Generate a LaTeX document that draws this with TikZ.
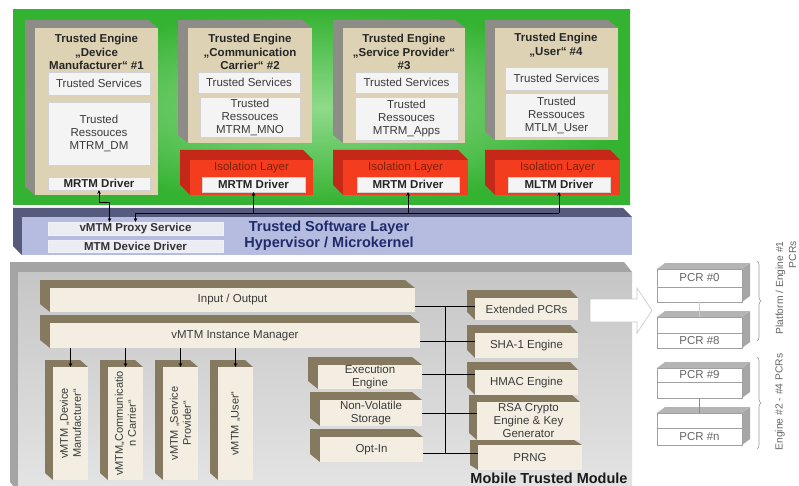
\documentclass[tikz,border=0pt]{standalone}
\usepackage{fontspec}
\setmainfont{Liberation Sans}
\usetikzlibrary{arrows.meta,decorations.pathreplacing}

\definecolor{grOut}{HTML}{34B231}
\definecolor{grIn}{HTML}{8FDA8B}
\definecolor{engBack}{HTML}{8E8C87}
\definecolor{engFront}{HTML}{DED2B4}
\definecolor{cellFill}{HTML}{F4F4F4}
\definecolor{cellLine}{HTML}{D2D2D2}
\definecolor{isoFront}{HTML}{F43C1E}
\definecolor{isoBack}{HTML}{C52819}
\definecolor{isoText}{HTML}{7A2410}
\definecolor{swFill}{HTML}{B6BBE0}
\definecolor{swBand}{HTML}{565A7C}
\definecolor{swCell}{HTML}{ECECF4}
\definecolor{swText}{HTML}{1E2C6A}
\definecolor{mtmBack}{HTML}{A4A4A4}
\definecolor{mtmTop}{HTML}{C6C6C6}
\definecolor{mtmBot}{HTML}{E4E4E4}
\definecolor{barBack}{HTML}{857A60}
\definecolor{barFront}{HTML}{F3EEE1}
\definecolor{pcrTop}{HTML}{B4B4B4}
\definecolor{pcrSide}{HTML}{A6A6A6}
\definecolor{pcrLine}{HTML}{A0A0A0}
\definecolor{txt}{HTML}{3A3A3A}

% extruded back part of a slab: front face x1,y1,x2,y2, depth dx,dy towards upper left
\newcommand\backface[7]{\fill[#1] (#2,#5) -- ({#2-#6},{#5-#7}) -- ({#2-#6},{#3-#7}) -- ({#4-#6},{#3-#7}) -- (#4,#3) -- (#2,#3) -- cycle;}
% front face as a named node spanning x1,y1,x2,y2
\newcommand\face[7]{\node[#1,anchor=north west,minimum width={#5pt-#3pt},minimum height={#6pt-#4pt}] (#2) at (#3,#4) {#7};}
% register box with top and right faces, split in two rows
\newcommand\pcrbox[6]{%
  \fill[pcrSide] (742,#2) -- (750,{#2-6}) -- (750,{#4-6}) -- (742,#4) -- cycle;
  \fill[pcrTop] (657,#2) -- (665,{#2-6}) -- (750,{#2-6}) -- (742,#2) -- cycle;
  \node[pcrface,anchor=north west,minimum width=85pt,minimum height={#3pt-#2pt}] (#1a) at (657,#2) {#5};
  \node[pcrface,anchor=north west,minimum width=85pt,minimum height={#4pt-#3pt}] (#1b) at (657,#3) {#6};}

\tikzset{
  base/.style={inner sep=0pt,outer sep=0pt,font=\fontsize{11.5}{13}\selectfont,text=txt,align=center},
  cell/.style={base,fill=cellFill,draw=cellLine,line width=0.6pt},
  enginefront/.style={base,fill=engFront},
  title/.style={base,font=\bfseries\fontsize{11.5}{13.5}\selectfont,text=black!85},
  drv/.style={cell,font=\bfseries\fontsize{11.5}{13}\selectfont,text=black!85},
  isofront/.style={base,fill=isoFront},
  isolabel/.style={base,text=isoText},
  swfront/.style={base,fill=swFill},
  swcell/.style={base,fill=swCell,draw=white!80!swFill,line width=0.6pt,font=\bfseries\fontsize{11.5}{13}\selectfont,text=black!80},
  swlabel/.style={base,font=\bfseries\fontsize{14.5}{15.5}\selectfont,text=swText},
  mtmfront/.style={base,top color=mtmTop,bottom color=mtmBot},
  mtmlabel/.style={base,font=\bfseries\fontsize{14.5}{15.5}\selectfont,text=black!90},
  bar/.style={base,fill=barFront},
  vlabel/.style={base,font=\fontsize{11}{13}\selectfont},
  pcrface/.style={base,fill=white,draw=pcrLine,line width=0.5pt,text=black!60},
  pcrlabel/.style={base,font=\fontsize{10.3}{13}\selectfont,text=black!60},
  conn/.style={draw=black,line width=0.8pt},
  bus/.style={draw=black,line width=1pt},
  tip/.tip={Stealth[length=4pt,width=3.6pt]},
  bigarrow/.style={fill=white,draw=black!22,line width=0.6pt},
  brace/.style={draw=black!40,line width=0.6pt,decorate,decoration={brace,amplitude=4pt}},
  regline/.style={draw=black!30,line width=0.6pt}
}

\begin{document}
\begin{tikzpicture}[x=1pt,y=-1pt]
\useasboundingbox (0,0) rectangle (799,486);
\fill[white] (0,0) rectangle (799,486);

% ---------- trusted engines ----------
\shade[inner color=grIn,outer color=grOut] (13,10) rectangle (630,205);

% engine 1
\backface{engBack}{35}{28}{158}{195}{10}{8}
\face{enginefront}{eng1}{35}{28}{158}{195}{}
\node[title] (t1) at (96.5,52) {Trusted Engine\\„Device\\Manufacturer“ \#1};
\face{cell}{ts1}{48}{72}{150}{95}{Trusted Services}
\face{cell}{tr1}{48}{102}{150}{165}{Trusted\\Ressouces\\MTRM\_DM}
\face{drv}{d1}{48}{177}{150}{190}{MRTM Driver}

% engine 2
\backface{engBack}{188}{28}{312}{143}{10}{8}
\face{enginefront}{eng2}{188}{28}{312}{143}{}
\node[title] (t2) at (250,52) {Trusted Engine\\„Communication\\Carrier“ \#2};
\face{cell}{ts2}{198}{72}{300}{93}{Trusted Services}
\face{cell}{tr2}{200}{97}{300}{137}{Trusted\\Ressouces\\MTRM\_MNO}
\backface{isoBack}{190}{160}{313}{195}{10}{10}
\face{isofront}{iso2}{190}{160}{313}{195}{}
\node[isolabel] (il2) at (251.5,168) {Isolation Layer};
\face{drv}{d2}{202}{177}{305}{192}{MRTM Driver}

% engine 3
\backface{engBack}{343}{28}{465}{143}{10}{8}
\face{enginefront}{eng3}{343}{28}{465}{143}{}
\node[title] (t3) at (404,52) {Trusted Engine\\„Service Provider“\\\#3};
\face{cell}{ts3}{355}{72}{458}{93}{Trusted Services}
\face{cell}{tr3}{355}{97}{458}{140}{Trusted\\Ressouces\\MTRM\_Apps}
\backface{isoBack}{343}{160}{468}{195}{10}{10}
\face{isofront}{iso3}{343}{160}{468}{195}{}
\node[isolabel] (il3) at (405.5,168) {Isolation Layer};
\face{drv}{d3}{357}{177}{459}{192}{MRTM Driver}

% engine 4
\backface{engBack}{495}{28}{618}{140}{10}{8}
\face{enginefront}{eng4}{495}{28}{618}{140}{}
\node[title] (t4) at (556,45) {Trusted Engine\\„User“ \#4};
\face{cell}{ts4}{505}{67}{608}{90}{Trusted Services}
\face{cell}{tr4}{505}{93}{608}{137}{Trusted\\Ressouces\\MTLM\_User}
\backface{isoBack}{495}{160}{620}{195}{10}{10}
\face{isofront}{iso4}{495}{160}{620}{195}{}
\node[isolabel] (il4) at (557.5,168) {Isolation Layer};
\face{drv}{d4}{508}{177}{610}{192}{MLTM Driver}

% ---------- trusted software layer ----------
\backface{swBand}{22}{217}{632}{255}{9}{9}
\face{swfront}{sw}{22}{217}{632}{255}{}
\face{swcell}{proxy}{48}{222}{223}{235}{vMTM Proxy Service}
\face{swcell}{mtmdd}{48}{240}{223}{252}{MTM Device Driver}
\node[swlabel] (swt) at (329,236) {Trusted Software Layer\\Hypervisor / Microkernel};

% driver links
\path (proxy.north) ++(0,-9) coordinate (busL);
\draw[conn,{tip}-{tip}] (d1.south) -- ++(0,12) -| ([xshift=-26pt]proxy.north);
\draw[conn,-{tip}] (d4.south |- busL) -- (busL) -- (proxy.north);
\draw[conn,{tip}-] (d2.south) -- (d2.south |- busL);
\draw[conn,{tip}-] (d3.south) -- (d3.south |- busL);
\draw[conn,{tip}-] (d4.south) -- (d4.south |- busL);

% ---------- mobile trusted module ----------
\backface{mtmBack}{18}{272}{632}{492}{8}{10}
\face{mtmfront}{mtm}{18}{272}{632}{492}{}
\node[mtmlabel] (mtml) at (549,478) {Mobile Trusted Module};

\backface{barBack}{50}{288}{415}{312}{10}{8}
\face{bar}{io}{50}{288}{415}{312}{Input / Output}
\backface{barBack}{50}{323}{420}{348}{10}{8}
\face{bar}{im}{50}{323}{420}{348}{vMTM Instance Manager}

% vMTM instances
\backface{barBack}{53}{367}{88}{480}{8}{7}
\face{bar}{v1}{53}{367}{88}{480}{}
\backface{barBack}{108}{367}{143}{480}{8}{7}
\face{bar}{v2}{108}{367}{143}{480}{}
\backface{barBack}{163}{367}{198}{480}{8}{7}
\face{bar}{v3}{163}{367}{198}{480}{}
\backface{barBack}{218}{367}{253}{480}{8}{7}
\face{bar}{v4}{218}{367}{253}{480}{}
\node[vlabel,rotate=90] (vl1) at (v1) {vMTM „Device\\Manufacturer“};
\node[vlabel,rotate=90] (vl2) at (v2) {vMTM„Communicatio\\n Carrier“};
\node[vlabel,rotate=90] (vl3) at (v3) {vMTM „Service\\Provider“};
\node[vlabel,rotate=90] (vl4) at (v4) {vMTM „User“};
\foreach \v in {v1,v2,v3,v4}
  \draw[conn,-{tip}] (im.south -| \v) -- (\v.north);

% engine blocks
\backface{barBack}{318}{365}{422}{389}{10}{8}
\face{bar}{exe}{318}{365}{422}{389}{Execution\\Engine}
\backface{barBack}{320}{400}{422}{426}{10}{8}
\face{bar}{nvs}{320}{400}{422}{426}{Non-Volatile\\Storage}
\backface{barBack}{320}{437}{423}{462}{10}{8}
\face{bar}{opt}{320}{437}{423}{462}{Opt-In}

\backface{barBack}{475}{298}{578}{320}{8}{8}
\face{bar}{ext}{475}{298}{578}{320}{Extended PCRs}
\backface{barBack}{475}{333}{578}{358}{8}{8}
\face{bar}{sha}{475}{333}{578}{358}{SHA-1 Engine}
\backface{barBack}{475}{370}{578}{395}{8}{8}
\face{bar}{hmac}{475}{370}{578}{395}{HMAC Engine}
\backface{barBack}{477}{402}{580}{440}{8}{7}
\face{bar}{rsa}{477}{402}{580}{440}{RSA Crypto\\Engine \& Key\\Generator}
\backface{barBack}{478}{445}{582}{470}{8}{5}
\face{bar}{prng}{478}{445}{582}{470}{PRNG}

% internal bus
\coordinate (b1) at (445,306);
\coordinate (b2) at (445,341);
\coordinate (b3) at (445,374);
\coordinate (b4) at (445,413);
\coordinate (b5) at (445,453);
\draw[bus] (b1) -- (b5);
\draw[bus] (io.east |- b1) -- (ext.west |- b1);
\draw[bus] (im.east |- b2) -- (sha.west |- b2);
\draw[bus] (exe.east |- b3) -- (hmac.west |- b3);
\draw[bus] (nvs.east |- b4) -- (rsa.west |- b4);
\draw[bus] (opt.east |- b5) -- (prng.west |- b5);

% ---------- PCR detail ----------
\draw[bigarrow] (590,299) -- (637,299) -- (637,288) -- (652,310.5) -- (637,333) -- (637,322) -- (590,322) -- cycle;

\pcrbox{p0}{269}{287}{302}{PCR \#0}{}
\pcrbox{p8}{317}{333}{348}{}{PCR \#8}
\pcrbox{p9}{368}{382}{398}{PCR \#9}{}
\pcrbox{pn}{413}{428}{445}{}{PCR \#n}
\draw[regline,draw=black!20] (p0b.south) -- (p8a.north);
\draw[regline,draw=black!45] (p9b.south) -- (pna.north);

\draw[brace] (757,261) -- (757,341);
\draw[brace] (757,357) -- (757,449);
\node[pcrlabel,rotate=90,align=right] (lab1) at (786,288) {Platform / Engine \#1\\PCRs};
\node[pcrlabel,rotate=90] (lab2) at (780,402) {Engine \#2 - \#4 PCRs};
\end{tikzpicture}
\end{document}
